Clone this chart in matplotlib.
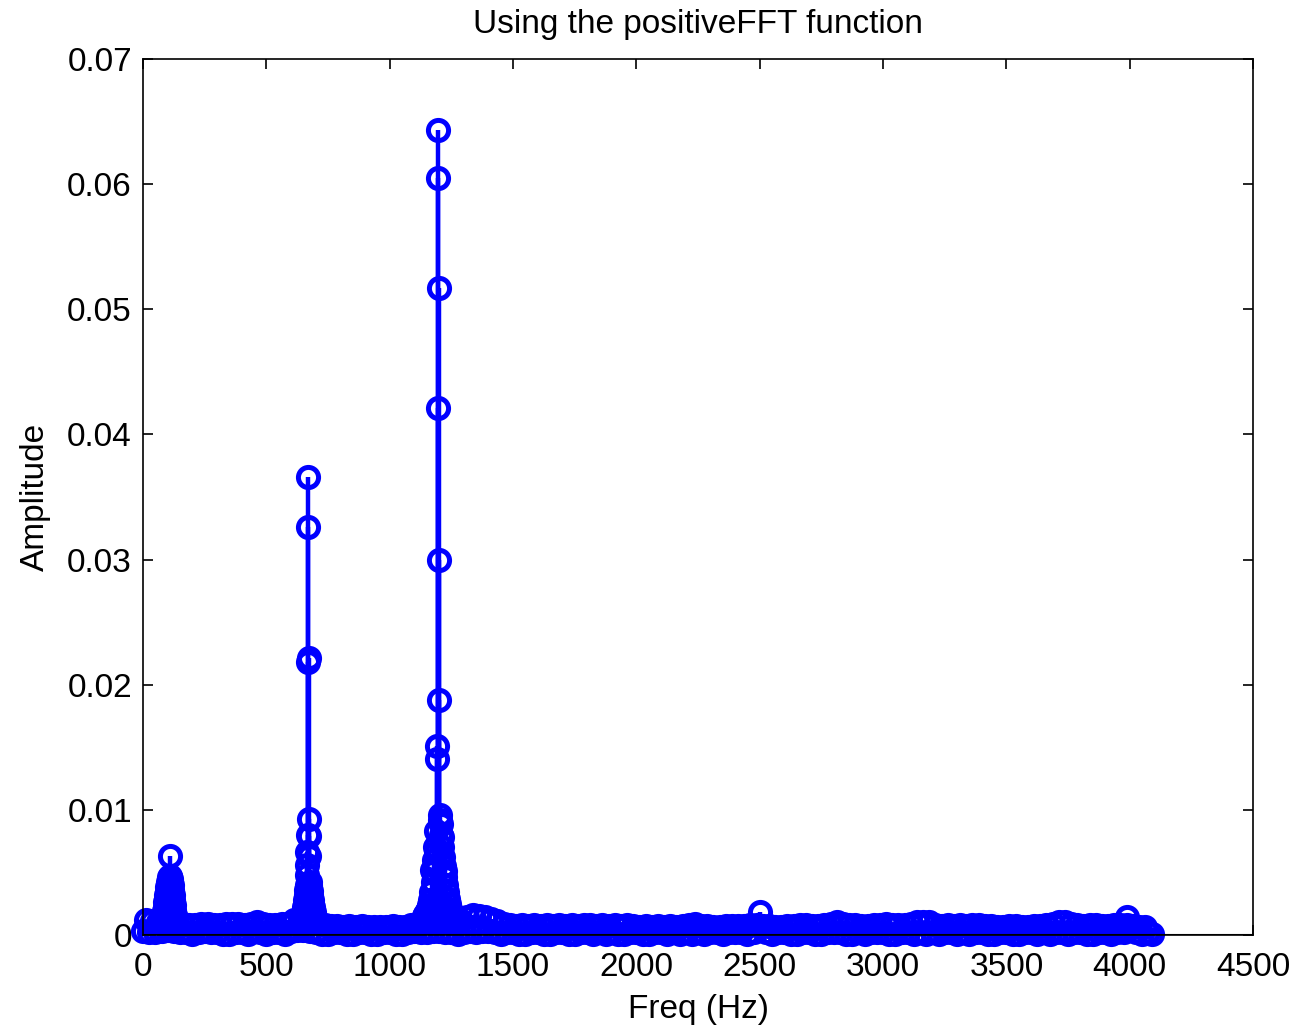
import numpy as np
import matplotlib
matplotlib.use("Agg")
import matplotlib.pyplot as plt

plt.rcParams['font.family'] = ['Liberation Sans', 'DejaVu Sans']

# noise floor, lower bins (amplitude in units of 1e-4)
base_freq = [0, 25, 50, 75, 100, 125, 150, 175,
             200, 225, 250, 275, 300, 325, 350, 375,
             400, 425, 450, 475, 500, 525, 550, 575,
             600, 625, 650, 675, 700, 725, 750, 775,
             800, 825, 850, 875, 900, 925, 950, 975,
             1000, 1025, 1050, 1075, 1100, 1125, 1150, 1175,
             1200, 1225, 1250, 1275, 1300, 1325, 1350, 1375,
             1400, 1425, 1450, 1475, 1500, 1525, 1550, 1575,
             1600, 1625, 1650, 1675, 1700, 1725, 1750, 1775,
             1800, 1825, 1850, 1875, 1900, 1925, 1950, 1975,
             2000, 2025, 2050, 2075, 2100, 2125, 2150, 2175,
             2200, 2225, 2250, 2275, 2300, 2325, 2350, 2375,
             2400, 2425, 2450, 2475, 2500, 2525, 2550, 2575,
             2600, 2625, 2650, 2675, 2700, 2725, 2750, 2775,
             2800, 2825, 2850, 2875, 2900, 2925, 2950, 2975,
             3000, 3025, 3050, 3075, 3100, 3125, 3150, 3175,
             3200, 3225, 3250, 3275, 3300, 3325, 3350, 3375,
             3400, 3425, 3450, 3475, 3500, 3525, 3550, 3575,
             3600, 3625, 3650, 3675, 3700, 3725, 3750, 3775,
             3800, 3825, 3850, 3875, 3900, 3925, 3950, 3975,
             3990, 4025, 4050, 4075, 4090]
base_amp = [3, 2, 2, 3, 4, 3, 2, 2,
            1, 2, 3, 2, 2, 1, 1, 2,
            2, 1, 3, 2, 1, 2, 2, 1,
            3, 4, 4, 3, 2, 1, 1, 2,
            2, 1, 1, 2, 2, 1, 1, 2,
            2, 1, 1, 2, 3, 2, 2, 3,
            3, 2, 2, 1, 2, 3, 2, 3,
            3, 2, 1, 2, 2, 1, 1, 2,
            2, 1, 1, 2, 2, 1, 1, 2,
            2, 1, 2, 1, 2, 1, 1, 2,
            2, 1, 1, 2, 2, 1, 2, 1,
            2, 1, 2, 1, 2, 2, 1, 2,
            2, 2, 1, 2, 18, 2, 1, 2,
            2, 1, 1, 2, 2, 1, 1, 2,
            2, 2, 1, 1, 2, 1, 2, 2,
            2, 1, 1, 2, 2, 1, 2, 1,
            2, 1, 2, 2, 1, 2, 1, 2,
            2, 1, 1, 2, 2, 1, 1, 2,
            2, 1, 2, 1, 2, 2, 1, 2,
            2, 1, 1, 2, 2, 1, 2, 2,
            14, 2, 1, 2, 1]

# noise floor, upper bins in between (units of 1e-4)
mid_freq = [12, 37, 62, 87, 112, 137, 162, 187,
            212, 237, 262, 287, 312, 337, 362, 387,
            412, 437, 462, 487, 512, 537, 562, 587,
            612, 637, 662, 687, 712, 737, 762, 787,
            812, 837, 862, 887, 912, 937, 962, 987,
            1012, 1037, 1062, 1087, 1112, 1137, 1162, 1187,
            1212, 1237, 1262, 1287, 1312, 1337, 1362, 1387,
            1412, 1437, 1462, 1487, 1512, 1537, 1562, 1587,
            1612, 1637, 1662, 1687, 1712, 1737, 1762, 1787,
            1812, 1837, 1862, 1887, 1912, 1937, 1962, 1987,
            2012, 2037, 2062, 2087, 2112, 2137, 2162, 2187,
            2212, 2237, 2262, 2287, 2312, 2337, 2362, 2387,
            2412, 2437, 2462, 2487, 2512, 2537, 2562, 2587,
            2612, 2637, 2662, 2687, 2712, 2737, 2762, 2787,
            2812, 2837, 2862, 2887, 2912, 2937, 2962, 2987,
            3012, 3037, 3062, 3087, 3112, 3137, 3162, 3187,
            3212, 3237, 3262, 3287, 3312, 3337, 3362, 3387,
            3412, 3437, 3462, 3487, 3512, 3537, 3562, 3587,
            3612, 3637, 3662, 3687, 3712, 3737, 3762, 3787,
            3812, 3837, 3862, 3887, 3912, 3937, 3962, 3987,
            4012, 4037, 4062]
mid_amp = [12, 11, 10, 9, 8, 9, 9, 8,
           8, 9, 9, 8, 8, 9, 9, 9,
           8, 9, 10, 9, 8, 8, 9, 9,
           12, 12, 13, 11, 9, 8, 7, 7,
           6, 7, 6, 7, 6, 6, 6, 6,
           7, 6, 6, 8, 9, 10, 12, 13,
           11, 10, 9, 12, 14, 16, 15, 14,
           13, 11, 9, 8, 7, 8, 7, 8,
           7, 8, 7, 8, 7, 8, 7, 8,
           8, 7, 8, 7, 8, 7, 8, 7,
           6, 7, 6, 7, 6, 7, 6, 7,
           8, 9, 7, 7, 6, 6, 7, 7,
           7, 7, 8, 8, 7, 7, 6, 6,
           7, 7, 8, 8, 7, 7, 8, 9,
           10, 9, 8, 8, 7, 7, 8, 8,
           9, 8, 8, 8, 9, 10, 10, 10,
           8, 7, 8, 7, 8, 7, 8, 8,
           7, 7, 6, 6, 7, 7, 6, 6,
           7, 7, 8, 9, 10, 10, 9, 8,
           7, 8, 8, 7, 7, 8, 8, 8,
           7, 6, 6]

# peak near 110 Hz
peak1_freq = [80, 82, 84, 86, 88, 90, 92, 94, 96, 98, 100, 102, 104, 106,
              108, 109, 110, 112, 114, 116, 118, 120, 122, 124, 126, 128,
              130, 132]
peak1_amp = [0.0010, 0.0013, 0.0016, 0.0019, 0.0022, 0.0026, 0.0029, 0.0032,
             0.0035, 0.0038, 0.0040, 0.0042, 0.0044, 0.0046, 0.0047, 0.0063,
             0.0046, 0.0045, 0.0043, 0.0040, 0.0036, 0.0032, 0.0028, 0.0024,
             0.0020, 0.0016, 0.0013, 0.0010]

# peak near 670 Hz
peak2_freq = [640, 644, 648, 651, 654, 656, 658, 660, 662, 663, 664, 665, 666,
              667, 668, 669, 670, 671, 672, 673, 674, 675, 676, 678, 680, 682,
              684, 686, 689, 692, 695, 699]
peak2_amp = [0.0012, 0.0014, 0.0016, 0.0019, 0.0022, 0.0025, 0.0028, 0.0032,
             0.0036, 0.0040, 0.0056, 0.0048, 0.0066, 0.0080, 0.0218, 0.0366,
             0.0326, 0.0221, 0.0093, 0.0079, 0.0063, 0.0042, 0.0040, 0.0038,
             0.0035, 0.0032, 0.0028, 0.0025, 0.0022, 0.0018, 0.0015, 0.0012]

# peak near 1200 Hz
peak3_freq = [1130, 1135, 1140, 1145, 1150, 1155, 1160, 1164, 1168, 1171, 1174,
              1177, 1180, 1183, 1185, 1187, 1189, 1191, 1193, 1195, 1196, 1197,
              1198, 1199, 1200, 1202, 1204, 1206, 1208, 1211, 1214, 1217, 1220,
              1223, 1226, 1229, 1232, 1236, 1240, 1245, 1250, 1256, 1262, 1270]
peak3_amp = [0.0011, 0.0013, 0.0015, 0.0017, 0.0019, 0.0021, 0.0024, 0.0028,
             0.0034, 0.0052, 0.0042, 0.0050, 0.0060, 0.0055, 0.0070, 0.0066,
             0.0083, 0.0141, 0.0151, 0.0421, 0.0643, 0.0605, 0.0517, 0.0300,
             0.0188, 0.0092, 0.0096, 0.0089, 0.0080, 0.0078, 0.0070, 0.0062,
             0.0055, 0.0046, 0.0051, 0.0040, 0.0034, 0.0029, 0.0025, 0.0021,
             0.0018, 0.0015, 0.0013, 0.0011]

xticks = [0, 500, 1000, 1500, 2000, 2500, 3000, 3500, 4000, 4500]
yticks = [0, 0.01, 0.02, 0.03, 0.04, 0.05, 0.06, 0.07]
ylabels = ['0', '0.01', '0.02', '0.03', '0.04', '0.05', '0.06', '0.07']

freq = np.concatenate([base_freq, mid_freq, peak1_freq, peak2_freq, peak3_freq])
amp = np.concatenate([np.array(base_amp) * 1e-4, np.array(mid_amp) * 1e-4,
                      peak1_amp, peak2_amp, peak3_amp])

fig = plt.figure(figsize=(13.05, 10.28), dpi=100)
ax = fig.add_axes([0.1096, 0.0905, 0.8506, 0.8521])

blue = (0, 0, 1)
ax.vlines(freq, 0, amp, color=blue, lw=3.2, zorder=2, clip_on=False)
ax.plot(freq, amp, 'o', ms=14.5, mew=3.6, mfc='none', mec=blue, zorder=2,
        clip_on=False)
ax.axhline(0, color='k', lw=1.5, zorder=3)

ax.set_xlim(0, 4500)
ax.set_ylim(0, 0.07)
ax.set_xticks(xticks)
ax.set_xticklabels([str(t) for t in xticks])
ax.set_yticks(yticks)
ax.set_yticklabels(ylabels)
ax.tick_params(direction='in', length=7, width=1.2, top=True, right=True,
               labelsize=24, color='k')
ax.tick_params(axis='x', pad=12)
ax.tick_params(axis='y', pad=8)
for s in ax.spines.values():
    s.set_linewidth(1.2)

ax.set_title('Using the positiveFFT function', fontsize=24, pad=19)
ax.set_xlabel('Freq (Hz)', fontsize=24, labelpad=8)
ax.set_ylabel('Amplitude', fontsize=24, labelpad=12)

fig.savefig('out.png', dpi=100)
